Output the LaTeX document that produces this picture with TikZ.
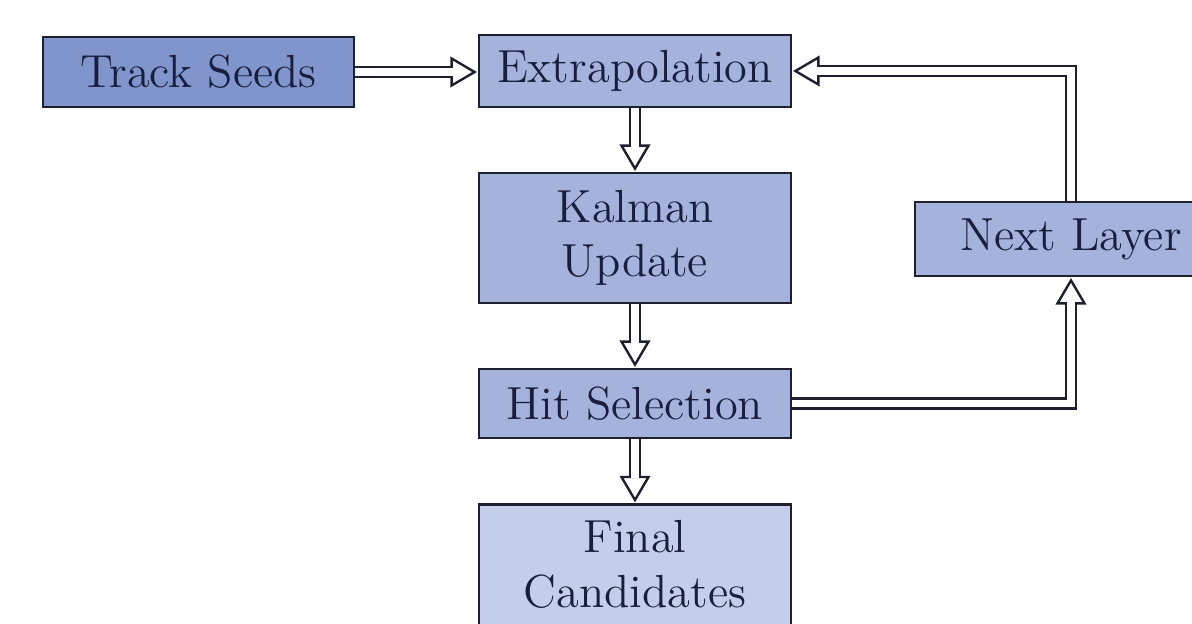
\documentclass[tikz,border=0pt]{standalone}
\usetikzlibrary{calc}

\definecolor{seedfill}{RGB}{128,149,204}
\definecolor{stepfill}{RGB}{164,178,220}
\definecolor{finalfill}{RGB}{196,205,233}
\definecolor{ink}{RGB}{24,30,62}
\definecolor{edge}{RGB}{30,32,45}

\tikzset{
  box/.style={draw=edge, line width=0.7pt, text=ink, inner sep=2pt,
    minimum width=78pt, align=center,
    font=\fontsize{11.6}{13.6}\selectfont},
  % hollow double-line shaft ending at the back of an open head
  shaft/.style={draw=edge, line width=0.6pt, double=white,
    double distance=1.9pt, shorten >=6.15pt},
  % open triangular head, tip just short of the origin, pointing along +x
  pics/tiphead/.style={code={
    \draw[draw=edge, fill=white, line width=0.6pt, line join=miter]
      (-3,0) -- (-26,13.5) -- (-26,-13.5) -- cycle;}}
}

\begin{document}
\begin{tikzpicture}[x=0.25pt, y=-0.25pt]
\useasboundingbox (0,0) rectangle (1192,623);
\clip (0,0) rectangle (1192,623);

% processing steps
\node[box, fill=seedfill, minimum width=77.75pt, minimum height=17.5pt]
  (seeds) at (198.5,72) {Track Seeds};
\node[box, fill=stepfill, minimum height=18pt]
  (extra) at (635,71) {Extrapolation};
\node[box, fill=stepfill, minimum height=32.5pt]
  (kalman) at (635,238) {Kalman\\Update};
\node[box, fill=stepfill, minimum height=17.25pt]
  (hitsel) at (635,403.5) {Hit Selection};
\node[box, fill=finalfill, minimum height=32.5pt, anchor=north, text depth=2.7pt]
  (final) at (635,503) {Final\\Candidates};
\node[box, fill=stepfill, minimum height=18.5pt]
  (next) at (1071,239) {Next Layer};

\path (seeds.east -| extra.west) coordinate (seedtip);

% arrow heads
\pic at (seedtip) {tiphead};
\pic[rotate=-90] at (kalman.north) {tiphead};
\pic[rotate=-90] at (hitsel.north) {tiphead};
\pic[rotate=-90] at (final.north) {tiphead};
\pic[rotate=90] at (next.south) {tiphead};
\pic[rotate=180] at (extra.east) {tiphead};

% shafts
\draw[shaft] (seeds.east) -- (seedtip);
\draw[shaft] (extra.south) -- (kalman.north);
\draw[shaft] (kalman.south) -- (hitsel.north);
\draw[shaft] (hitsel.south) -- (final.north);
\draw[shaft] (hitsel.east) -| (next.south);
\draw[shaft] (next.north) |- (extra.east);
\end{tikzpicture}
\end{document}
